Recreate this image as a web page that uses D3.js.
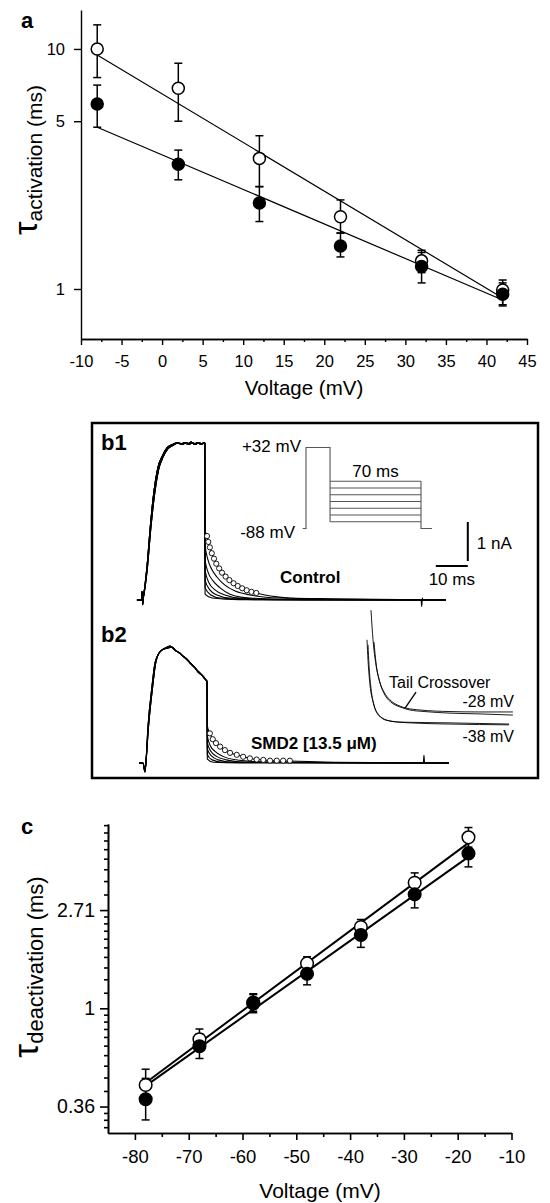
<!DOCTYPE html>
<html><head><meta charset="utf-8">
<script src="https://cdn.jsdelivr.net/npm/d3@7"></script>
<style>body{margin:0;background:#fff}svg{display:block}</style>
</head><body>
<script>
// ================= DATA =================
// Panel a : tau activation vs voltage (log scale)
const aVoltage   = [-8, 2, 12, 22, 32, 42];
const aOpen      = [10.0, 6.86, 3.5, 2.0, 1.31, 0.99];
const aOpenHi    = [12.6, 8.72, 4.35, 2.35, 1.45, 1.09];
const aOpenLo    = [7.6, 5.0, 2.67, 1.71, 1.17, 0.86];
const aFilled    = [5.9, 3.31, 2.28, 1.51, 1.24, 0.95];
const aFilledHi  = [7.07, 3.79, 2.67, 1.71, 1.42, 1.06];
const aFilledLo  = [4.72, 2.85, 1.91, 1.36, 1.06, 0.85];
const aFitVoltage = [-8, 42];
const aFitOpen    = [9.44, 0.917];
const aFitFilled  = [4.72, 0.90];
const aXTicks      = [-10, -5, 0, 5, 10, 15, 20, 25, 30, 35, 40, 45];
const aXTickLabels = ["-10", "-5", "0", "5", "10", "15", "20", "25", "30", "35", "40", "45"];
const aXMinorTicks = [-7.5, -2.5, 2.5, 7.5, 12.5, 17.5, 22.5, 27.5, 32.5, 37.5, 42.5];
const aYTicks      = [1, 5, 10];
const aYTickLabels = ["1", "5", "10"];

// Panel c : tau deactivation vs voltage (ln scale)
const cVoltage   = [-78, -68, -58, -48, -38, -28, -18];
const cOpen      = [0.458, 0.73, 1.06, 1.58, 2.29, 3.59, 5.70];
const cOpenHi    = [0.538, 0.81, 1.15, 1.69, 2.47, 3.97, 6.30];
const cOpenLo    = [0.39, 0.66, 0.97, 1.48, 2.12, 3.25, 5.16];
const cFilled    = [0.396, 0.68, 1.05, 1.42, 2.11, 3.19, 4.84];
const cFilledHi  = [0.49, 0.77, 1.16, 1.59, 2.39, 3.66, 5.55];
const cFilledLo  = [0.321, 0.60, 0.956, 1.27, 1.86, 2.78, 4.22];
const cFitVoltage = [-78, -18];
const cFitOpen    = [0.469, 5.39];
const cFitFilled  = [0.454, 4.67];
const cXTicks      = [-80, -70, -60, -50, -40, -30, -20, -10];
const cXTickLabels = ["-80", "-70", "-60", "-50", "-40", "-30", "-20", "-10"];
const cXMinorTicks = [-75, -65, -55, -45, -35, -25, -15];
const cYTicks      = [Math.exp(-1), 1, Math.E];
const cYTickLabels = ["0.36", "1", "2.71"];

// Panel b : current traces [time ms, current nA]
const b1RiseA = [[-1.9,0],[-0.5,0],[-0.3,0.22],[-0.1,-0.12],[0.1,0.05],[0.5,0.3],[1.25,0.85],[2.2,1.8],[3.1,2.56],[4.7,3.41],[5.9,3.67],[7.5,3.9],[9,3.98],[10.6,4.03],[12,4.0],[13,4.04],[14,4.0],[15,4.05],[16,3.99],[17,4.04],[18,3.99],[19,4.03],[19.3,4.02]];
const b1RiseB = [[-1.9,0],[-0.5,0],[-0.3,0.2],[-0.1,-0.1],[0.1,0.05],[0.6,0.3],[1.4,0.85],[2.4,1.8],[3.3,2.5],[4.9,3.35],[6.2,3.65],[7.8,3.88],[9.5,3.97],[11,4.03],[12.5,3.99],[13.5,4.04],[14.5,3.99],[15.5,4.04],[16.5,3.99],[17.5,4.04],[18.5,4.0],[19.3,4.02]];
const b1Tails = [
  [[19.4,1.79],[20.0,1.64],[20.4,1.49],[20.9,1.35],[21.5,1.20],[22.2,1.06],[22.9,0.93],[23.8,0.81],[24.7,0.70],[25.8,0.60],[27.0,0.51],[28.3,0.43],[29.6,0.36],[31.0,0.30],[32.4,0.25],[33.9,0.21],[35.4,0.18],[38.1,0.13],[42,0.08],[45.9,0.05],[58.4,0.03],[94.7,0]],
  [[19.4,1.41],[20.3,1.03],[21.6,0.77],[23.1,0.59],[25.6,0.38],[28.8,0.23],[33.4,0.13],[42.8,0.05],[60,0.02],[94.7,0]],
  [[19.4,1.03],[20.3,0.72],[21.9,0.49],[24.1,0.31],[27.2,0.15],[33.4,0.05],[50,0.01],[94.7,0]],
  [[19.4,0.77],[20.6,0.44],[22.5,0.26],[25.6,0.13],[30.3,0.05],[45,0.01],[94.7,0]],
  [[19.4,0.51],[20.9,0.26],[23.1,0.13],[27.2,0.05],[40,0.01],[94.7,0]],
  [[19.4,0.31],[21.2,0.13],[24.1,0.05],[35,0.01],[94.7,0]],
  [[19.4,0.15],[21.6,0.05],[30,0.01],[86.9,0],[87.1,-0.17],[87.3,0.05],[87.5,0],[94.7,0]]
];
const b1Fit = [[20.0,1.64],[20.4,1.49],[20.9,1.35],[21.5,1.20],[22.2,1.06],[22.9,0.93],[23.8,0.81],[24.7,0.70],[25.8,0.60],[27.0,0.51],[28.3,0.43],[29.6,0.36],[31.0,0.30],[32.4,0.25],[33.9,0.21],[35.4,0.18]];

const b2RiseA = [[-1.25,0],[0,0],[0.6,-0.23],[0.9,0],[1.56,0.92],[2.8,1.95],[3.75,2.56],[5.3,2.85],[7.5,2.97],[8.5,3.0],[10,2.89],[11,2.84],[12,2.78],[13,2.71],[14.7,2.56],[16,2.46],[17,2.37],[18,2.29],[19.4,2.15],[20.0,2.1]];
const b2RiseB = [[-1.25,0],[0,0],[0.6,-0.2],[0.9,0],[1.7,0.92],[3.0,1.95],[4.0,2.58],[5.6,2.88],[7.8,2.95],[9,2.97],[10.3,2.88],[11.5,2.82],[12.3,2.75],[13.5,2.68],[15,2.55],[16.2,2.45],[17.2,2.33],[18.3,2.26],[19.4,2.16],[20.0,2.06]];
const b2Tails = [
  [[20.1,0.95],[20.9,0.76],[21.8,0.61],[22.8,0.51],[24.1,0.42],[25.6,0.33],[27.2,0.26],[29.3,0.21],[31.3,0.16],[33.4,0.12],[35.5,0.09],[37.6,0.08],[39.7,0.06],[45.9,0.05],[60,0.02],[95.6,0]],
  [[20.1,0.7],[21.0,0.45],[22.5,0.3],[25,0.17],[30,0.07],[40,0.02],[95.6,0]],
  [[20.1,0.52],[21.2,0.3],[23,0.17],[26,0.08],[32,0.02],[95.6,0]],
  [[20.1,0.36],[21.4,0.18],[23.5,0.08],[28,0.02],[95.6,0]],
  [[20.1,0.22],[21.6,0.08],[25,0.02],[95.6,0]],
  [[20.1,0.1],[22,0.02],[30,0],[87.6,0],[87.8,0.2],[88.0,0],[95.6,0]]
];
const b2Fit = [[20.9,0.76],[21.8,0.61],[22.8,0.51],[24.1,0.42],[25.6,0.33],[27.2,0.26],[29.3,0.21],[31.3,0.16],[33.4,0.12],[35.5,0.09],[37.6,0.08],[39.7,0.06],[41.8,0.06],[43.8,0.06],[45.9,0.06]];

// Tail crossover inset traces
const cross28a = [[1.56,2.97],[2.19,2.21],[3.13,1.56],[4.38,1.10],[5.94,0.79],[8.13,0.59],[10.6,0.49],[13.75,0.41],[18.4,0.37],[26.25,0.33],[35.6,0.31],[45.9,0.28]];
const cross28b = [[2.5,2.15],[3.13,1.62],[4.06,1.21],[5.63,0.87],[7.5,0.67],[10,0.53],[12.5,0.46],[16.9,0.41],[26.25,0.37],[35.6,0.36],[45.9,0.36]];
const cross38a = [[0.31,2.21],[0.63,1.69],[1.25,1.05],[2.19,0.62],[3.44,0.33],[5,0.21],[7.5,0.13],[13.75,0.08],[26.25,0.05],[44.7,0.03]];
const cross38b = [[0.63,2.08],[0.94,1.56],[1.56,0.97],[2.5,0.54],[4.06,0.28],[6.25,0.15],[10.6,0.10],[26.25,0.08],[44.7,0.05]];
const crossPoint = [12.2, 0.46];

// Voltage protocol (mV, ms)
const protoHold = -88, protoStep = 32;
const protoTails = [-18, -28, -38, -48, -58, -68, -78];
const protoTimes = [-2.5, 0, 18.5, 88.5, 97];

// ================= DRAW =================
const FONT = "'Liberation Sans', Arial, Helvetica, sans-serif";
const svg = d3.select("body").append("svg").attr("width", 550).attr("height", 1203)
  .attr("font-family", FONT);

function styleAxis(g, fs, sw) {
  g.attr("font-family", FONT).attr("font-size", fs);
  g.select(".domain").attr("stroke", "#000").attr("stroke-width", sw);
  g.selectAll(".tick line").attr("stroke", "#000").attr("stroke-width", sw);
  g.selectAll(".tick text").attr("fill", "#000");
}
function drawSeries(g, x, y, xs, vals, lo, hi, fitX, fitV, sw) {
  g.append("path").datum(fitX.map((v, i) => [v, fitV[i]]))
    .attr("fill", "none").attr("stroke", "#000").attr("stroke-width", sw)
    .attr("d", d3.line().x(d => x(d[0])).y(d => y(d[1])));
  const rows = xs.map((v, i) => ({ v, m: vals[i], lo: lo[i], hi: hi[i] }));
  const e = g.append("g").attr("stroke", "#000").attr("stroke-width", 1.5);
  e.selectAll(".v").data(rows).join("line").attr("x1", d => x(d.v)).attr("x2", d => x(d.v))
    .attr("y1", d => y(d.lo)).attr("y2", d => y(d.hi));
  e.selectAll(".ch").data(rows).join("line").attr("x1", d => x(d.v) - 4).attr("x2", d => x(d.v) + 4)
    .attr("y1", d => y(d.hi)).attr("y2", d => y(d.hi));
  e.selectAll(".cl").data(rows).join("line").attr("x1", d => x(d.v) - 4).attr("x2", d => x(d.v) + 4)
    .attr("y1", d => y(d.lo)).attr("y2", d => y(d.lo));
  return rows;
}
function drawMarkers(g, x, y, rows, filled, r) {
  g.selectAll(null).data(rows).join("circle").attr("cx", d => x(d.v)).attr("cy", d => y(d.m))
    .attr("r", r).attr("fill", filled ? "#000" : "#fff").attr("stroke", "#000").attr("stroke-width", 1.5);
}

// ---------- Panel a ----------
const ax = d3.scaleLinear().domain([-10, 45]).range([81, 527]);
const ay = d3.scaleLog().domain([0.619, 14.53]).range([339, 10]);
const gA = svg.append("g");
styleAxis(gA.append("g").attr("transform", "translate(0,339)")
  .call(d3.axisBottom(ax).tickValues(aXMinorTicks).tickSize(3).tickFormat(() => "").tickSizeOuter(0)), 16.5, 1.4);
styleAxis(gA.append("g").attr("transform", "translate(0,339)")
  .call(d3.axisBottom(ax).tickValues(aXTicks).tickFormat((d, i) => aXTickLabels[i]).tickSize(6).tickPadding(10).tickSizeOuter(0)), 16.5, 1.4);
styleAxis(gA.append("g").attr("transform", "translate(81,0)")
  .call(d3.axisLeft(ay).tickValues(aYTicks).tickFormat((d, i) => aYTickLabels[i]).tickSize(7).tickPadding(9).tickSizeOuter(0)), 16.5, 1.4);
const rAo = drawSeries(gA, ax, ay, aVoltage, aOpen, aOpenLo, aOpenHi, aFitVoltage, aFitOpen, 1.2);
const rAf = drawSeries(gA, ax, ay, aVoltage, aFilled, aFilledLo, aFilledHi, aFitVoltage, aFitFilled, 1.2);
drawMarkers(gA, ax, ay, rAo, false, 6);
drawMarkers(gA, ax, ay, rAf, true, 6);
gA.append("text").attr("x", 21).attr("y", 28).attr("font-size", 22).attr("font-weight", "bold").text("a");
gA.append("text").attr("x", 304).attr("y", 395).attr("text-anchor", "middle").attr("font-size", 20.5).text("Voltage (mV)");
const tA = gA.append("text").attr("transform", "translate(37,160) rotate(-90)").attr("text-anchor", "middle");
tA.append("tspan").attr("font-size", 34).text("τ");
tA.append("tspan").attr("font-size", 21).attr("dy", 5).text("activation");
tA.append("tspan").attr("font-size", 21).text("\u00a0(ms)");

// ---------- Panel b ----------
const gB = svg.append("g");
gB.append("rect").attr("x", 92).attr("y", 423).attr("width", 446).attr("height", 355)
  .attr("fill", "none").attr("stroke", "#000").attr("stroke-width", 2.5);
const bx = d3.scaleLinear().domain([0, 100]).range([143, 463]);
const b1y = d3.scaleLinear().domain([0, 1]).range([600, 561]);
const b2y = d3.scaleLinear().domain([0, 1]).range([763, 724]);
const lb1 = d3.line().x(d => bx(d[0])).y(d => b1y(d[1])).curve(d3.curveMonotoneX);
const lb2 = d3.line().x(d => bx(d[0])).y(d => b2y(d[1])).curve(d3.curveMonotoneX);
b1Tails.forEach((t, i) => {
  gB.append("path").attr("d", lb1((i % 2 ? b1RiseB : b1RiseA).concat(t)))
    .attr("fill", "none").attr("stroke", "#000").attr("stroke-width", 1.1);
});
b2Tails.forEach((t, i) => {
  gB.append("path").attr("d", lb2((i % 2 ? b2RiseB : b2RiseA).concat(t)))
    .attr("fill", "none").attr("stroke", "#000").attr("stroke-width", 1.1);
});
gB.selectAll(".f1").data(b1Fit).join("circle").attr("cx", d => bx(d[0])).attr("cy", d => b1y(d[1]))
  .attr("r", 2.6).attr("fill", "#fff").attr("stroke", "#000").attr("stroke-width", 0.9);
gB.selectAll(".f2").data(b2Fit).join("circle").attr("cx", d => bx(d[0])).attr("cy", d => b2y(d[1]))
  .attr("r", 2.6).attr("fill", "#fff").attr("stroke", "#000").attr("stroke-width", 0.9);

// voltage protocol
const px = d3.scaleLinear().domain([0, 88.5]).range([306, 421]);
const py = d3.scaleLinear().domain([-78, 32]).range([521.7, 447.5]);
const pLine = d3.line().x(d => px(d[0])).y(d => py(d[1]));
const pG = gB.append("g").attr("fill", "none").attr("stroke", "#555").attr("stroke-width", 1.1);
pG.append("path").attr("d", pLine([[protoTimes[0], protoHold], [protoTimes[1], protoHold], [protoTimes[1], protoStep],
  [protoTimes[2], protoStep], [protoTimes[2], d3.min(protoTails)]]));
protoTails.forEach(v => pG.append("path").attr("d", pLine([[protoTimes[2], v], [protoTimes[3], v]])));
pG.append("path").attr("d", pLine([[protoTimes[3], d3.max(protoTails)], [protoTimes[3], protoHold], [protoTimes[4], protoHold]]));
gB.append("text").attr("x", 301).attr("y", py(protoStep) + 4).attr("text-anchor", "end").attr("font-size", 17).text("+32 mV");
gB.append("text").attr("x", 295).attr("y", py(protoHold) + 10).attr("text-anchor", "end").attr("font-size", 17).text("-88 mV");
gB.append("text").attr("x", px(53.5)).attr("y", py(d3.max(protoTails)) - 4).attr("text-anchor", "middle").attr("font-size", 17).text("70 ms");

// scale bars
const sbT = 91.5, sbI = 0.87;
gB.append("line").attr("x1", bx(sbT)).attr("x2", bx(sbT + 10)).attr("y1", b1y(sbI)).attr("y2", b1y(sbI)).attr("stroke", "#000").attr("stroke-width", 2);
gB.append("line").attr("x1", bx(sbT + 10)).attr("x2", bx(sbT + 10)).attr("y1", b1y(1)).attr("y2", b1y(2)).attr("stroke", "#000").attr("stroke-width", 2);
gB.append("text").attr("x", bx(sbT + 10) + 9).attr("y", b1y(1.3)).attr("font-size", 17).text("1 nA");
gB.append("text").attr("x", bx(sbT + 5)).attr("y", 585).attr("text-anchor", "middle").attr("font-size", 17).text("10 ms");

gB.append("text").attr("x", 280).attr("y", 583).attr("font-size", 17).attr("font-weight", "bold").text("Control");
gB.append("text").attr("x", 251).attr("y", 749).attr("font-size", 17).attr("font-weight", "bold").text("SMD2 [13.5 μM)");
gB.append("text").attr("x", 101).attr("y", 450).attr("font-size", 22).attr("font-weight", "bold").text("b1");
gB.append("text").attr("x", 101).attr("y", 642).attr("font-size", 22).attr("font-weight", "bold").text("b2");

// crossover inset
const ix = d3.scaleLinear().domain([0, 50]).range([366, 526]);
const iy = d3.scaleLinear().domain([0, 1]).range([726, 687]);
const li = d3.line().x(d => ix(d[0])).y(d => iy(d[1])).curve(d3.curveMonotoneX);
[cross28a, cross28b, cross38a, cross38b].forEach(c => gB.append("path").attr("d", li(c))
  .attr("fill", "none").attr("stroke", "#000").attr("stroke-width", 0.9));
gB.append("line").attr("x1", ix(crossPoint[0])).attr("y1", iy(crossPoint[1]))
  .attr("x2", ix(crossPoint[0]) + 11).attr("y2", iy(crossPoint[1]) - 16).attr("stroke", "#000").attr("stroke-width", 1.3);
gB.append("text").attr("x", 389).attr("y", 688).attr("font-size", 16).text("Tail Crossover");
gB.append("text").attr("x", 514).attr("y", 707).attr("text-anchor", "end").attr("font-size", 16).text("-28 mV");
gB.append("text").attr("x", 514).attr("y", 742).attr("text-anchor", "end").attr("font-size", 16).text("-38 mV");

// ---------- Panel c ----------
const cx = d3.scaleLinear().domain([-85, -10]).range([108, 511.5]);
const cy = d3.scaleLog().base(Math.E).domain([0.281, 6.53]).range([1133, 824]);
const cYMinor = [];
[-2, -1, 0, 1].forEach(n => { const a = Math.exp(n), b = Math.exp(n + 1);
  for (let k = 1; k <= 9; k++) { const v = a + k * (b - a) / 10; if (v > 0.281 && v < 6.53) cYMinor.push(v); } });
const gC = svg.append("g");
styleAxis(gC.append("g").attr("transform", "translate(0,1133)")
  .call(d3.axisBottom(cx).tickValues(cXMinorTicks).tickSize(4).tickFormat(() => "").tickSizeOuter(0)), 18.5, 1.6);
styleAxis(gC.append("g").attr("transform", "translate(0,1133)")
  .call(d3.axisBottom(cx).tickValues(cXTicks).tickFormat((d, i) => cXTickLabels[i]).tickSize(7).tickPadding(10).tickSizeOuter(0)), 18.5, 1.6);
styleAxis(gC.append("g").attr("transform", "translate(108,0)")
  .call(d3.axisLeft(cy).tickValues(cYMinor).tickSize(4).tickFormat(() => "").tickSizeOuter(0)), 18.5, 1.6);
styleAxis(gC.append("g").attr("transform", "translate(108,0)")
  .call(d3.axisLeft(cy).tickValues(cYTicks).tickFormat((d, i) => cYTickLabels[i]).tickSize(8).tickPadding(5).tickSizeOuter(0)), 19.5, 1.6);
const rCo = drawSeries(gC, cx, cy, cVoltage, cOpen, cOpenLo, cOpenHi, cFitVoltage, cFitOpen, 2);
const rCf = drawSeries(gC, cx, cy, cVoltage, cFilled, cFilledLo, cFilledHi, cFitVoltage, cFitFilled, 2);
drawMarkers(gC, cx, cy, rCo, false, 6.3);
drawMarkers(gC, cx, cy, rCf, true, 6.3);
gC.append("text").attr("x", 21).attr("y", 834).attr("font-size", 22).attr("font-weight", "bold").text("c");
gC.append("text").attr("x", 320).attr("y", 1198).attr("text-anchor", "middle").attr("font-size", 21).text("Voltage (mV)");
const tC = gC.append("text").attr("transform", "translate(38,967) rotate(-90)").attr("text-anchor", "middle");
tC.append("tspan").attr("font-size", 35).text("τ");
tC.append("tspan").attr("font-size", 22).attr("dy", 5).text("deactivation");
tC.append("tspan").attr("font-size", 22).text("\u00a0(ms)");
</script>
</body></html>
